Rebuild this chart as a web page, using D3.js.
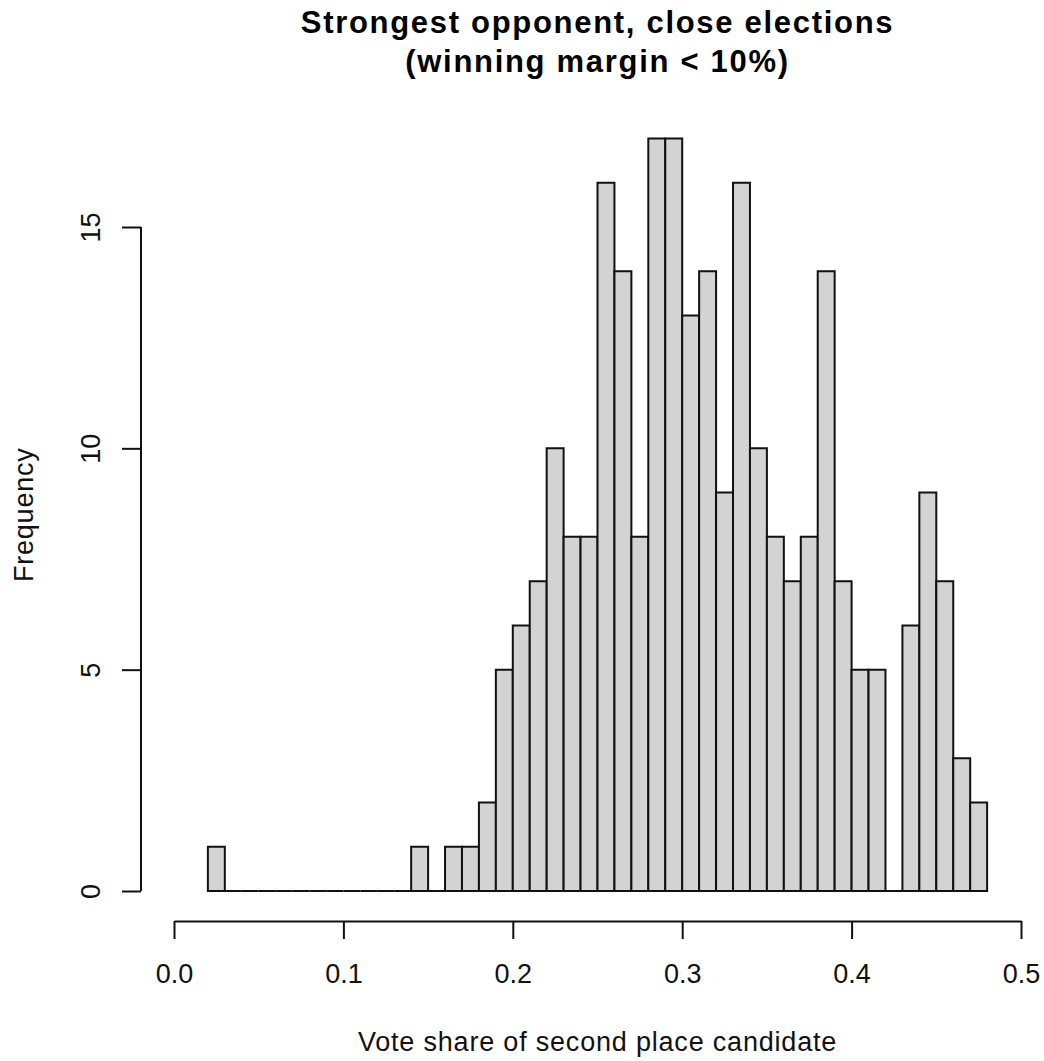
<!DOCTYPE html>
<html>
<head>
<meta charset="utf-8">
<script src="https://cdn.jsdelivr.net/npm/d3@7"></script>
<style>
  body {margin: 0; background: #fff;}
  svg {display: block; font-family: 'Liberation Sans', Arial, sans-serif;}
  .bar {fill: #d3d3d3; stroke: #111; stroke-width: 2;}
  .axis line, .axis path {stroke: #111; stroke-width: 2;}
  .axis text {font-size: 27px; fill: #111; font-family: 'Liberation Sans', Arial, sans-serif;}
</style>
</head>
<body>
<script>
document.title = 'Strongest opponent, close elections'

// bin edges (0.02 .. 0.48, width 0.01)
const binEdges = [0.02, 0.03, 0.04, 0.05, 0.06, 0.07, 0.08, 0.09, 0.10, 0.11,
  0.12, 0.13, 0.14, 0.15, 0.16, 0.17, 0.18, 0.19, 0.20, 0.21, 0.22, 0.23, 0.24,
  0.25, 0.26, 0.27, 0.28, 0.29, 0.30, 0.31, 0.32, 0.33, 0.34, 0.35, 0.36, 0.37,
  0.38, 0.39, 0.40, 0.41, 0.42, 0.43, 0.44, 0.45, 0.46, 0.47, 0.48]
// frequency of each bin
const counts = [1, 0, 0, 0, 0, 0, 0, 0, 0, 0, 0, 0, 1, 0, 1, 1, 2, 5, 6, 7,
  10, 8, 8, 16, 14, 8, 17, 17, 13, 14, 9, 16, 10, 8, 7, 8, 14, 7, 5, 5, 0, 6,
  9, 7, 3, 2]
const xTicks = [0, 0.1, 0.2, 0.3, 0.4, 0.5]
const yTicks = [0, 5, 10, 15]
const titleLines = ['Strongest opponent, close elections', '(winning margin < 10%)']
const xLabel = 'Vote share of second place candidate'
const yLabel = 'Frequency'

const bins = counts.map((c, i) => ({x0: binEdges[i], x1: binEdges[i + 1], count: c}))

const svgWidth = 1044
const svgHeight = 1061
const svg = d3.select('body').append('svg')
  .attr('width', svgWidth).attr('height', svgHeight)

const x = d3.scaleLinear().domain([0, 0.5]).range([174, 1021])
const y = d3.scaleLinear().domain([0, 15]).range([891, 227])
const axisX = 141
const axisY = 921
const cx = (x(-0.02) + x(0.52)) / 2

// bars (paths so empty bins still show as a line on the baseline)
svg.append('g').selectAll('.bar').data(bins).enter().append('path')
  .attr('class', 'bar')
  .attr('d', d => `M${x(d.x0)},${y(0)}V${y(d.count)}H${x(d.x1)}V${y(0)}Z`)

// x axis
const gx = svg.append('g').attr('class', 'axis')
  .attr('transform', `translate(0,${axisY})`)
  .call(d3.axisBottom(x).tickValues(xTicks).tickFormat(d3.format('.1f'))
    .tickSize(18).tickSizeOuter(0))
gx.selectAll('text').attr('y', 62).attr('dy', 0)

// y axis
const gy = svg.append('g').attr('class', 'axis')
  .attr('transform', `translate(${axisX},0)`)
  .call(d3.axisLeft(y).tickValues(yTicks).tickSize(19).tickSizeOuter(0))
gy.select('.domain').attr('d', `M0,${y(yTicks[0])}V${y(yTicks[yTicks.length - 1])}`)
gy.selectAll('text')
  .attr('transform', 'rotate(-90)')
  .attr('x', 0).attr('y', -41).attr('dy', 0)
  .attr('text-anchor', 'middle')

// title
svg.append('g').selectAll('text').data(titleLines).enter().append('text')
  .attr('x', cx).attr('y', (d, i) => 33 + i * 39)
  .attr('text-anchor', 'middle')
  .style('font-size', '31px').style('font-weight', 'bold')
  .style('letter-spacing', '1.7px').style('fill', '#000')
  .text(d => d)

// axis labels
svg.append('text')
  .attr('x', cx).attr('y', 1051)
  .attr('text-anchor', 'middle')
  .style('font-size', '27px').style('letter-spacing', '0.8px').style('fill', '#111')
  .text(xLabel)

svg.append('text')
  .attr('transform', `translate(33,${(y(0) + 30 + y(17) - 30) / 2}) rotate(-90)`)
  .attr('text-anchor', 'middle')
  .style('font-size', '27px').style('letter-spacing', '0.8px').style('fill', '#111')
  .text(yLabel)
</script>
</body>
</html>
